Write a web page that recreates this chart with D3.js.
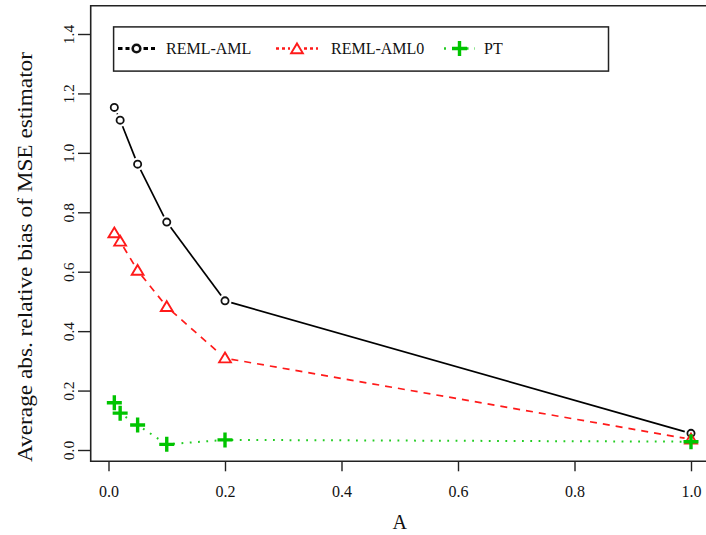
<!DOCTYPE html>
<html><head><meta charset="utf-8">
<script src="https://cdn.jsdelivr.net/npm/d3@7"></script>
<style>body{margin:0;background:#fff}svg{display:block}text{font-family:"Liberation Serif","Times New Roman",serif}</style>
</head><body><svg id="c" width="706" height="535"></svg>
<script>
const xValues = [0.01, 0.02, 0.05, 0.1, 0.2, 1.0];
const remlAml = [1.153, 1.110, 0.962, 0.767, 0.502, 0.056];
const remlAml0 = [0.730, 0.702, 0.604, 0.482, 0.309, 0.036];
const pt = [0.159, 0.124, 0.084, 0.019, 0.034, 0.028];
const xTicks = [0, 0.2, 0.4, 0.6, 0.8, 1.0];
const yTicks = [0, 0.2, 0.4, 0.6, 0.8, 1.0, 1.2, 1.4];
const seriesNames = ["REML-AML", "REML-AML0", "PT"];

const svg = d3.select("#c");
const x = d3.scaleLinear().domain([0, 1]).range([108.5, 691]);
const y = d3.scaleLinear().domain([0, 1.4]).range([450, 34]);
const frame = {l: 90.7, t: 5.7, b: 461.3, r: 730};

// frame
svg.append("path").attr("d", `M${frame.r},${frame.t}H${frame.l}V${frame.b}H${frame.r}`)
  .attr("fill", "none").attr("stroke", "#222").attr("stroke-width", 1.6);

// y axis
const ya = svg.append("g").attr("transform", `translate(${frame.l},0)`)
  .call(d3.axisLeft(y).tickValues(yTicks).tickFormat(d3.format(".1f")).tickSize(12.7));
ya.select(".domain").remove();
ya.selectAll(".tick line").attr("stroke", "#222").attr("stroke-width", 1.4);
ya.selectAll(".tick text").attr("x", 0).attr("dy", 0)
  .attr("transform", "translate(-22,0) rotate(-90)")
  .attr("text-anchor", "middle").attr("dominant-baseline", "central")
  .style("font-size", "15.5px").style("font-family", "Liberation Serif").attr("fill", "#111");

// x axis
const xa = svg.append("g").attr("transform", `translate(0,${frame.b})`)
  .call(d3.axisBottom(x).tickValues(xTicks).tickFormat(d3.format(".1f")).tickSize(10));
xa.select(".domain").remove();
xa.selectAll(".tick line").attr("stroke", "#222").attr("stroke-width", 1.4);
xa.selectAll(".tick text").attr("y", 30).attr("dy", 0).attr("dominant-baseline", "central")
  .style("font-size", "16px").style("font-family", "Liberation Serif").attr("fill", "#111");

// titles
svg.append("text").attr("x", x(0.5)).attr("y", 522).attr("text-anchor", "middle")
  .attr("dominant-baseline", "central").style("font-size", "20px").attr("fill", "#111").text("A");
svg.append("text").attr("transform", `translate(25,257) rotate(-90)`)
  .attr("text-anchor", "middle").attr("dominant-baseline", "central")
  .attr("textLength", 410).attr("lengthAdjust", "spacingAndGlyphs")
  .style("font-size", "21px").attr("fill", "#111").text("Average abs. relative bias of MSE estimator");

const styles = [
  {color: "#000", dash: null, width: 1.7},
  {color: "#ff1a1a", dash: "7,6", width: 1.7},
  {color: "#22cc22", dash: "1.8,6.5", width: 2}
];
const data = [remlAml, remlAml0, pt];

function marker(g, kind, cx, cy, color, bold) {
  if (kind === 0) {
    g.append("circle").attr("cx", cx).attr("cy", cy).attr("r", bold ? 3.8 : 3.6)
      .attr("fill", "none").attr("stroke", "#111").attr("stroke-width", bold ? 2.6 : 1.8);
  } else if (kind === 1) {
    const s = 5.6;
    g.append("path").attr("d", `M${cx},${cy - s}L${cx + s * 1.05},${cy + s * 0.75}L${cx - s * 1.05},${cy + s * 0.75}Z`)
      .attr("fill", "none").attr("stroke", color).attr("stroke-width", 1.9);
  } else {
    const s = 7.5;
    g.append("path").attr("d", `M${cx - s},${cy}H${cx + s}M${cx},${cy - s}V${cy + s}`)
      .attr("stroke", "#00c400").attr("stroke-width", 3.4);
  }
}

const gap = 6.5;
data.forEach((vals, k) => {
  const st = styles[k];
  const g = svg.append("g");
  const pts = xValues.map((xv, i) => [x(xv), y(vals[i])]);
  for (let i = 0; i < pts.length - 1; i++) {
    const [x1, y1] = pts[i], [x2, y2] = pts[i + 1];
    const dx = x2 - x1, dy = y2 - y1, L = Math.hypot(dx, dy);
    if (L <= 2 * gap) continue;
    const ux = dx / L, uy = dy / L;
    g.append("line")
      .attr("x1", x1 + ux * gap).attr("y1", y1 + uy * gap)
      .attr("x2", x2 - ux * gap).attr("y2", y2 - uy * gap)
      .attr("stroke", st.color).attr("stroke-width", st.width)
      .attr("stroke-dasharray", st.dash);
  }
  pts.forEach(p => marker(g, k, p[0], p[1], st.color, false));
});

// legend
const leg = svg.append("g");
leg.append("rect").attr("x", 113.6).attr("y", 26.9).attr("width", 494.9).attr("height", 44.2)
  .attr("fill", "#fff").attr("stroke", "#222").attr("stroke-width", 1.5);
const legItems = [
  {x1: 118, x2: 155, tx: 166},
  {x1: 276, x2: 318, tx: 331},
  {x1: 444, x2: 475, tx: 484}
];
const ly = 48.5;
legItems.forEach((it, k) => {
  const st = styles[k];
  const cx = (it.x1 + it.x2) / 2;
  [[it.x1, cx - 7], [cx + 7, it.x2]].forEach(([a, b]) => {
    leg.append("line").attr("x1", a).attr("x2", b).attr("y1", ly).attr("y2", ly)
      .attr("stroke", st.color).attr("stroke-width", k === 0 ? 2.8 : 2.4)
      .attr("stroke-dasharray", k === 0 ? "4.5,3" : (k === 1 ? "3,3" : "2,6"));
  });
  marker(leg, k, cx, ly + (k === 1 ? 0.5 : 0), st.color, true);
  leg.append("text").attr("x", it.tx).attr("y", ly).attr("dominant-baseline", "central")
    .style("font-size", "16px").attr("fill", "#111").text(seriesNames[k]);
});
</script></body></html>
